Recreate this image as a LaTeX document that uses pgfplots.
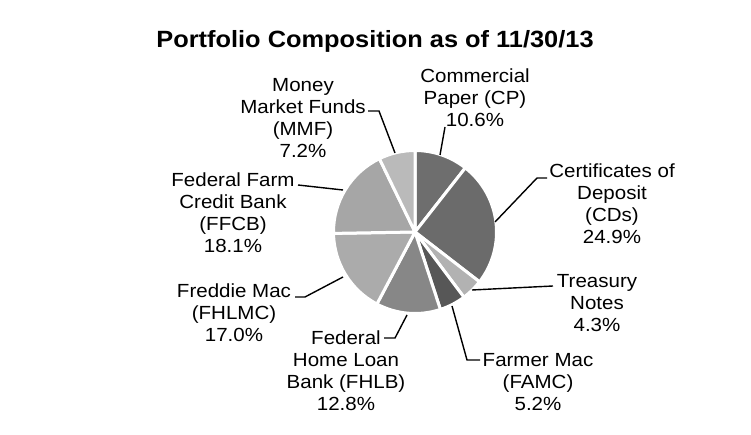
\documentclass[border=0pt]{standalone}
\usepackage{pgfplots}
\usepackage{pgfplotstable}
\pgfplotsset{compat=1.18}
\usepackage{fontspec}
\setmainfont{Liberation Sans}[FakeStretch=1.08]

% portfolio shares (%), clockwise from 12 o'clock; shade = percent black
\pgfplotstableread{
key   value shade
CP    10.6  57
CDs   24.9  58
TN    4.3   30
FAMC  5.2   66
FHLB  12.8  47
FHLMC 17.0  33
FFCB  18.1  35
MMF   7.2   27
}\piedata

% total, then start/end angle of each slice
\def\total{0}
\pgfplotsforeachungrouped \i in {0,...,7}{%
  \pgfplotstablegetelem{\i}{value}\of\piedata
  \pgfmathsetmacro\total{\total+\pgfplotsretval}%
}
\def\cum{0}
\pgfplotsforeachungrouped \i in {0,...,7}{%
  \pgfplotstablegetelem{\i}{value}\of\piedata
  \let\v\pgfplotsretval
  \pgfmathsetmacro\a{90-(\cum/\total)*360}%
  \pgfmathsetmacro\b{90-((\cum+\v)/\total)*360}%
  \expandafter\xdef\csname sa\i\endcsname{\a}%
  \expandafter\xdef\csname ea\i\endcsname{\b}%
  \pgfmathsetmacro\cum{\cum+\v}%
  \pgfplotstablegetelem{\i}{shade}\of\piedata
  \expandafter\xdef\csname sh\i\endcsname{\pgfplotsretval}%
}

\begin{document}
\begin{tikzpicture}[
    lbl/.style={inner sep=0pt, align=center, anchor=north,
        font=\fontsize{19}{22}\selectfont},
]
\begin{axis}[
    hide axis,
    scale only axis,
    width=751pt, height=435pt,
    xmin=0, xmax=751, ymin=0, ymax=435,
    clip=false,
]
    % keep the full frame as the picture's size
    \path (axis cs:0,0) rectangle (axis cs:751,435);

    % slices
    \pgfplotsinvokeforeach{0,...,7}{
        \filldraw[fill=black!\csname sh#1\endcsname, draw=white, line width=3pt, line join=round]
            (axis cs:415,203) -- ++(\csname sa#1\endcsname:81.5pt)
            arc[start angle=\csname sa#1\endcsname, end angle=\csname ea#1\endcsname, radius=81.5pt]
            -- cycle;
    }

    % title
    \node[inner sep=0pt, anchor=base, font=\fontsize{23.5}{28}\selectfont\bfseries]
        at (axis cs:375,387) {Portfolio Composition as of 11/30/13};

    % labels
    \node[lbl] at (axis cs:303,357) {Money\\Market Funds\\(MMF)\\7.2\%};
    \node[lbl] at (axis cs:475,366) {Commercial\\Paper (CP)\\10.6\%};
    \node[lbl] at (axis cs:612,271) {Certificates of\\Deposit\\(CDs)\\24.9\%};
    \node[lbl] at (axis cs:597,161) {Treasury\\Notes\\4.3\%};
    \node[lbl] at (axis cs:538,82) {Farmer Mac\\(FAMC)\\5.2\%};
    \node[lbl] at (axis cs:346,104) {Federal\\Home Loan\\Bank (FHLB)\\12.8\%};
    \node[lbl] at (axis cs:234,151) {Freddie Mac\\(FHLMC)\\17.0\%};
    \node[lbl] at (axis cs:233,262) {Federal Farm\\Credit Bank\\(FFCB)\\18.1\%};

    % leader lines
    \begin{scope}[line width=1.4pt]
    \draw (axis cs:368,324) -- (axis cs:379,324) -- (axis cs:395,282);
    \draw (axis cs:445,308) -- (axis cs:440,280);
    \draw (axis cs:547,257) -- (axis cs:537,257) -- (axis cs:495,213);
    \draw (axis cs:553,149) -- (axis cs:472,145);
    \draw (axis cs:480,75) -- (axis cs:467,75) -- (axis cs:452,129);
    \draw (axis cs:384,97) -- (axis cs:395,97) -- (axis cs:407,120);
    \draw (axis cs:295,138) -- (axis cs:305,138) -- (axis cs:343,158);
    \draw (axis cs:298,250) -- (axis cs:343,245);
    \end{scope}
\end{axis}
\end{tikzpicture}
\end{document}
